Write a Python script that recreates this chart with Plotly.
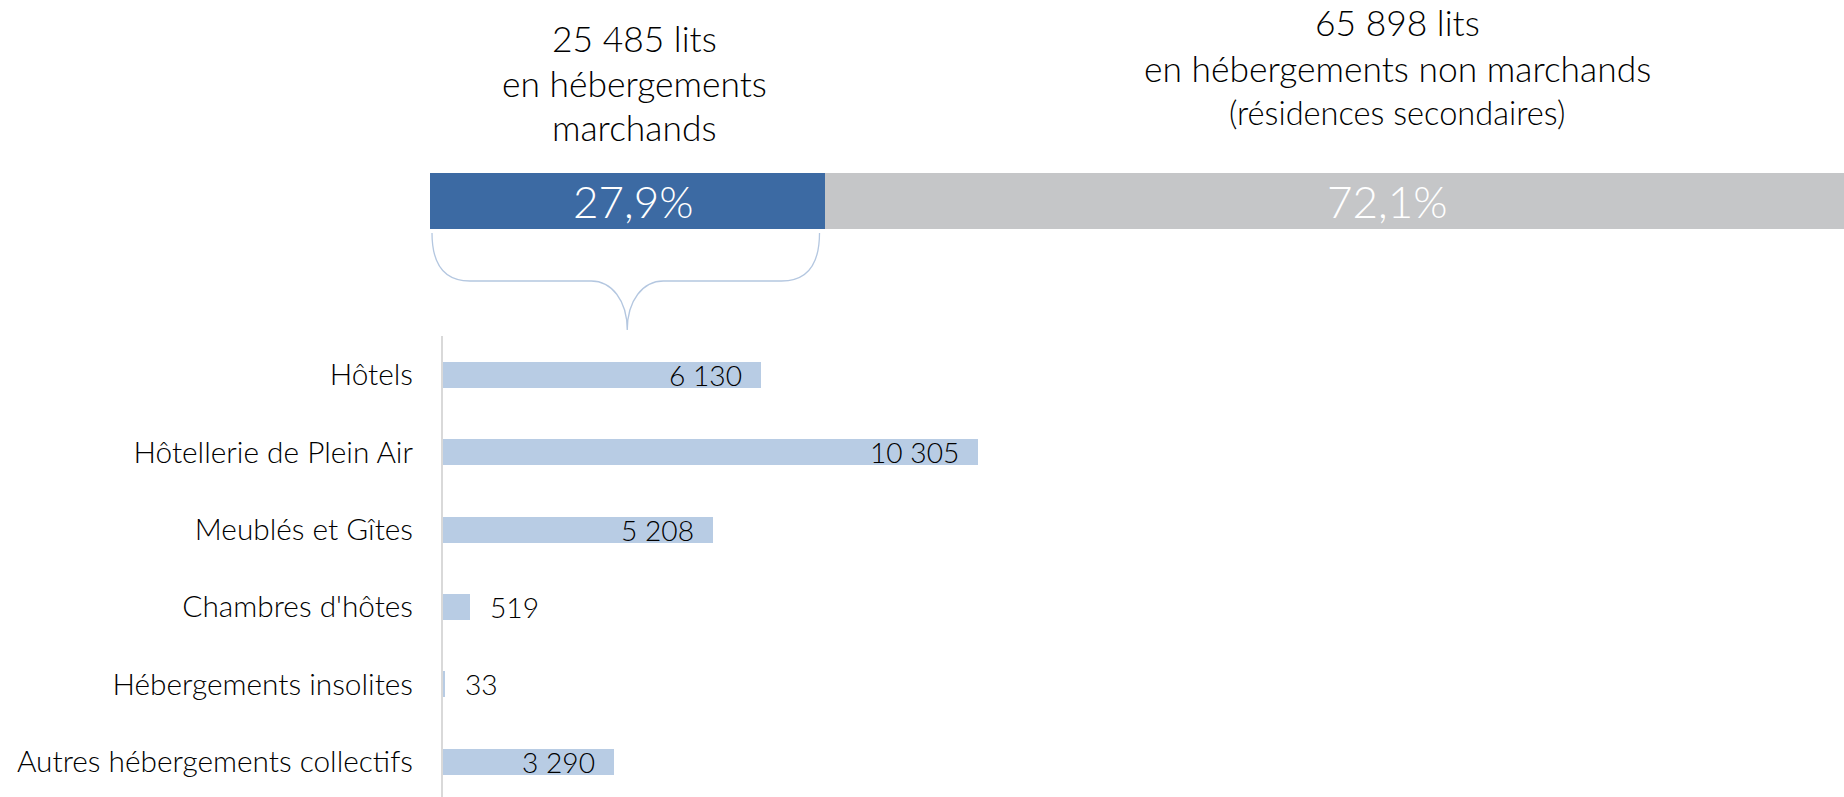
import plotly.graph_objects as go

W, H = 1844, 797

# ---- data ----
share_names = ["Hébergements marchands", "Hébergements non marchands"]
share_values = [27.9, 72.1]
share_colors = ["#3C6AA3", "#C5C6C8"]
share_label_shift = [6, 53]

header_left = ["25 485 lits", "en hébergements", "marchands"]
header_right = ["65 898 lits", "en hébergements non marchands", "(résidences secondaires)"]

categories = ["Hôtels", "Hôtellerie de Plein Air", "Meublés et Gîtes",
              "Chambres d'hôtes", "Hébergements insolites", "Autres hébergements collectifs"]
beds = [6130, 10305, 5208, 519, 33, 3290]
label_inside = [True, True, True, False, False, True]

FONT = "Lato"
TXT = "#000000"
WEIGHT = 300


def py(px):
    return 1 - px / H


def fr_num(v):
    return f"{v:,}".replace(",", " ")


fig = go.Figure()

annotations = []

# top stacked share bar
cum = 0
for name, val, col, sh in zip(share_names, share_values, share_colors, share_label_shift):
    fig.add_trace(go.Bar(
        orientation="h", y=[0], x=[val], name=name, width=1,
        marker=dict(color=col, line=dict(width=0)),
        xaxis="x2", yaxis="y2", hoverinfo="skip", showlegend=False,
    ))
    annotations.append(dict(
        x=cum + val / 2, y=0, xref="x2", yref="y2", xshift=sh,
        text=f"{val:.1f}".replace(".", ",") + "%", showarrow=False,
        xanchor="center", yanchor="middle",
        font=dict(family=FONT, size=44, color="white", weight=300),
    ))
    cum += val

# bottom bars
fig.add_trace(go.Bar(
    orientation="h", y=categories, x=beds, width=0.336,
    marker=dict(color="#B8CCE4", line=dict(width=0)),
    xaxis="x", yaxis="y", hoverinfo="skip", showlegend=False,
))

for cat, v, inside in zip(categories, beds, label_inside):
    annotations.append(dict(
        x=v, y=cat, xref="x", yref="y", text=fr_num(v), showarrow=False,
        xanchor="right" if inside else "left", xshift=-17 if inside else 18,
        yanchor="middle", font=dict(family=FONT, size=28.2, color=TXT, weight=WEIGHT),
    ))

left_y = [38, 84, 127]
right_y = [22, 68, 113]
left_sizes = [35.4, 35.4, 35.4]
right_sizes = [35.4, 35.4, 32.6]
for t, yy, s in zip(header_left, left_y, left_sizes):
    annotations.append(dict(x=634 / W, y=py(yy), xref="paper", yref="paper", text=t,
                            showarrow=False, xanchor="center", yanchor="middle",
                            font=dict(family=FONT, size=s, color=TXT, weight=WEIGHT)))
for t, yy, s in zip(header_right, right_y, right_sizes):
    annotations.append(dict(x=1397 / W, y=py(yy), xref="paper", yref="paper", text=t,
                            showarrow=False, xanchor="center", yanchor="middle",
                            font=dict(family=FONT, size=s, color=TXT, weight=WEIGHT)))

# brace under the "marchands" segment (expressed relative to the segment)
seg = share_values[0]
px_per_unit = (W - 430) / 100.0
def ux(px_off):
    return px_off / px_per_unit
x0 = ux(2)
x1 = seg - ux(5)
xm = seg / 2
yt, ymid, ytip = py(233), py(281), py(330)
path = (
    f"M {x0},{yt} C {x0},{py(265)} {x0 + ux(13)},{ymid} {x0 + ux(38)},{ymid} "
    f"L {xm - ux(36)},{ymid} C {xm - ux(16)},{ymid} {xm},{py(300)} {xm},{ytip} "
    f"C {xm},{py(300)} {xm + ux(16)},{ymid} {xm + ux(36)},{ymid} "
    f"L {x1 - ux(38)},{ymid} C {x1 - ux(13)},{ymid} {x1},{py(265)} {x1},{yt}"
)
shapes = [dict(type="path", path=path, xref="x2", yref="paper",
               line=dict(color="#B4C7E0", width=1.3))]

fig.update_layout(
    width=W, height=H,
    margin=dict(l=0, r=0, t=0, b=0),
    paper_bgcolor="white", plot_bgcolor="white",
    barmode="stack", bargap=0,
    showlegend=False,
    annotations=annotations, shapes=shapes,
    xaxis=dict(domain=[443 / W, 1], range=[0, 26985], visible=False, anchor="y"),
    yaxis=dict(domain=[0, py(336)], range=[5.456, -0.5], anchor="x",
               showline=True, linecolor="#D9D9D9", linewidth=2,
               ticks="outside", ticklen=22, tickcolor="rgba(0,0,0,0)",
               tickfont=dict(family=FONT, size=29.8, color=TXT, weight=WEIGHT),
               showgrid=False, zeroline=False),
    xaxis2=dict(domain=[430 / W, 1], range=[0, 100], visible=False, anchor="y2"),
    yaxis2=dict(domain=[py(229), py(173)], range=[-0.5, 0.5], visible=False, anchor="x2"),
)

fig.write_html("out.html", config={"displayModeBar": False},
               post_script="document.body.style.margin='0';document.body.style.overflow='hidden';")
